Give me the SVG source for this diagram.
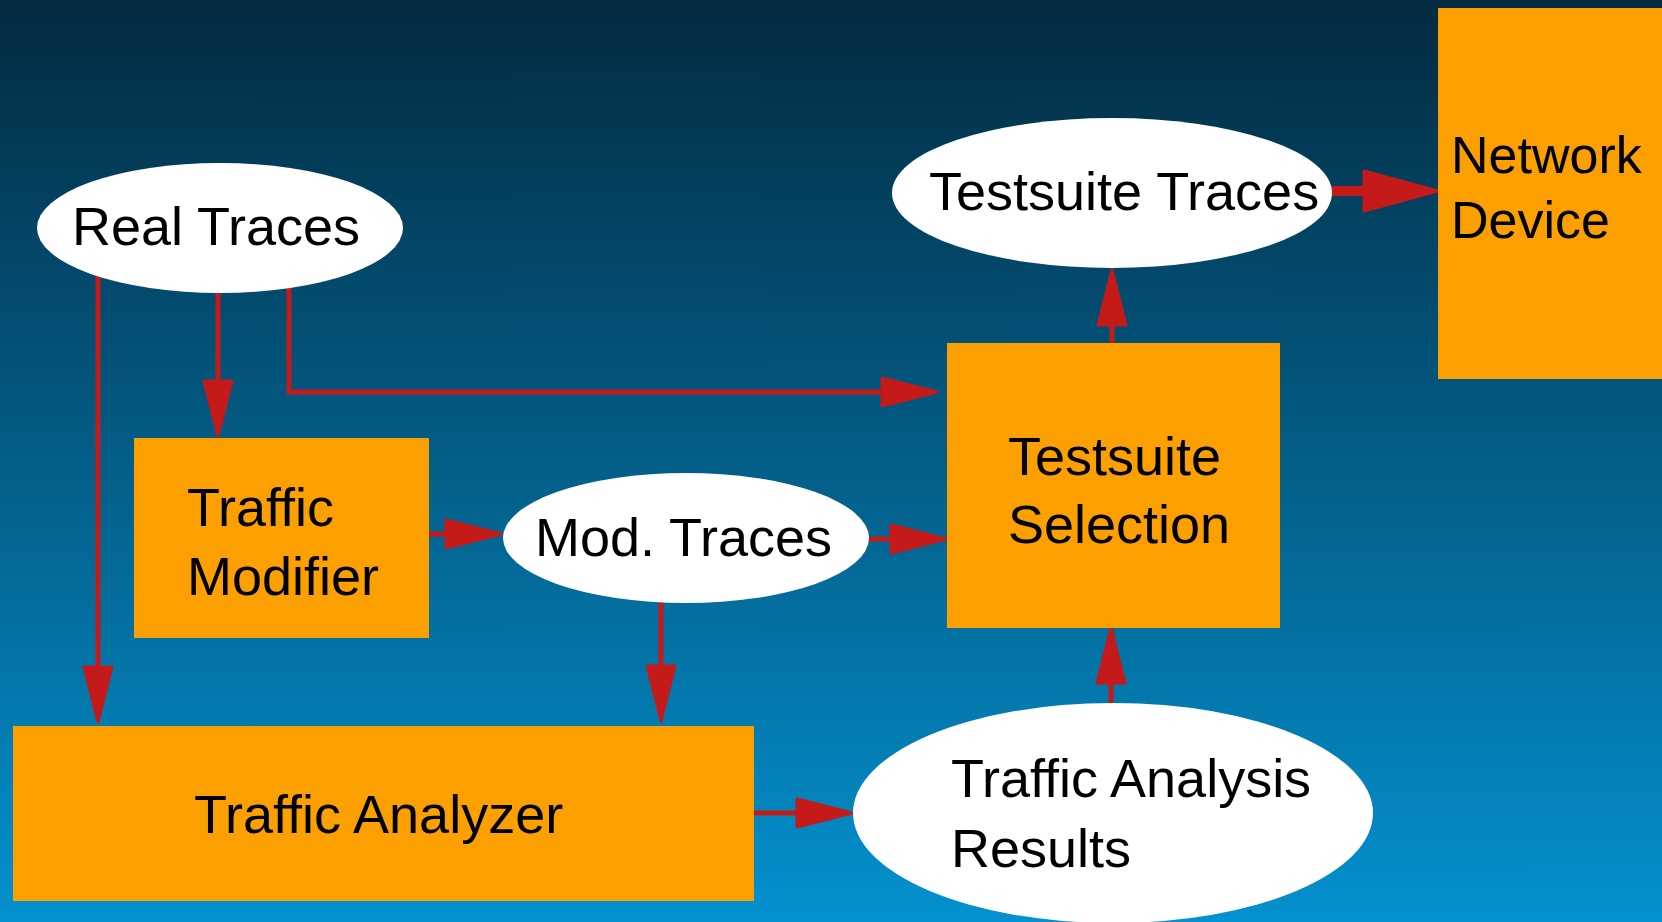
<svg xmlns="http://www.w3.org/2000/svg" width="1662" height="922" viewBox="0 0 1662 922">
<defs>
<linearGradient id="bg" x1="0" y1="0" x2="0" y2="1">
<stop offset="0" stop-color="#032a40"/>
<stop offset="1" stop-color="#0491cf"/>
</linearGradient>
<marker id="arr" markerUnits="userSpaceOnUse" markerWidth="80" markerHeight="40" refX="0" refY="0" orient="auto" overflow="visible">
<path d="M0,-14 L55,0 L0,14 Z" fill="#c41a1a" stroke="#c41a1a" stroke-width="3" stroke-linejoin="round"/>
</marker>
<marker id="arrBig" markerUnits="userSpaceOnUse" markerWidth="100" markerHeight="60" refX="0" refY="0" orient="auto" overflow="visible">
<path d="M0,-20 L74,0 L0,20 Z" fill="#c41a1a" stroke="#c41a1a" stroke-width="3" stroke-linejoin="round"/>
</marker>
</defs>
<style>
.box{fill:#fba000}
.ell{fill:#ffffff}
.lbl{font-family:"Liberation Sans",Arial,sans-serif;font-size:54px;fill:#000000}
.small{font-size:52px}
.edge{fill:none;stroke:#c41a1a;stroke-width:5;marker-end:url(#arr)}
.edgeBig{fill:none;stroke:#c41a1a;stroke-width:10;marker-end:url(#arrBig)}
</style>
<rect x="0" y="0" width="1662" height="922" fill="url(#bg)"/>
<g id="connectors">
<path class="edge" d="M98,272 L98,667"/>
<path class="edge" d="M218,290 L218,381"/>
<path class="edge" d="M289,285 L289,392 L882,392"/>
<path class="edge" d="M429,534 L446,534"/>
<path class="edge" d="M867,539 L891,539"/>
<path class="edge" d="M661,600 L661,666"/>
<path class="edge" d="M1112,343 L1112,325"/>
<path class="edge" d="M1111,705 L1111,683"/>
<path class="edge" d="M754,813 L797,813"/>
<path class="edgeBig" d="M1330,191 L1364,191"/>
</g>
<g id="network-device">
<rect class="box" x="1438" y="8" width="230" height="371"/>
<text class="lbl small" x="1451" y="173">Network</text>
<text class="lbl small" x="1451" y="238">Device</text>
</g>
<g id="testsuite-traces">
<ellipse class="ell" cx="1112" cy="193" rx="220" ry="75"/>
<text class="lbl" x="929" y="210">Testsuite Traces</text>
</g>
<g id="real-traces">
<ellipse class="ell" cx="220" cy="228" rx="183" ry="65"/>
<text class="lbl" x="72" y="245">Real Traces</text>
</g>
<g id="traffic-modifier">
<rect class="box" x="134" y="438" width="295" height="200"/>
<text class="lbl" x="187" y="526">Traffic</text>
<text class="lbl" x="187" y="595">Modifier</text>
</g>
<g id="mod-traces">
<ellipse class="ell" cx="686" cy="538" rx="183" ry="65"/>
<text class="lbl" x="535" y="556">Mod. Traces</text>
</g>
<g id="testsuite-selection">
<rect class="box" x="947" y="343" width="333" height="285"/>
<text class="lbl" x="1008" y="475">Testsuite</text>
<text class="lbl" x="1008" y="543">Selection</text>
</g>
<g id="traffic-analyzer">
<rect class="box" x="13" y="726" width="741" height="175"/>
<text class="lbl" x="194" y="833">Traffic Analyzer</text>
</g>
<g id="traffic-analysis-results">
<ellipse class="ell" cx="1113" cy="813" rx="260" ry="110"/>
<text class="lbl" x="951" y="797">Traffic Analysis</text>
<text class="lbl" x="951" y="867">Results</text>
</g>
</svg>
